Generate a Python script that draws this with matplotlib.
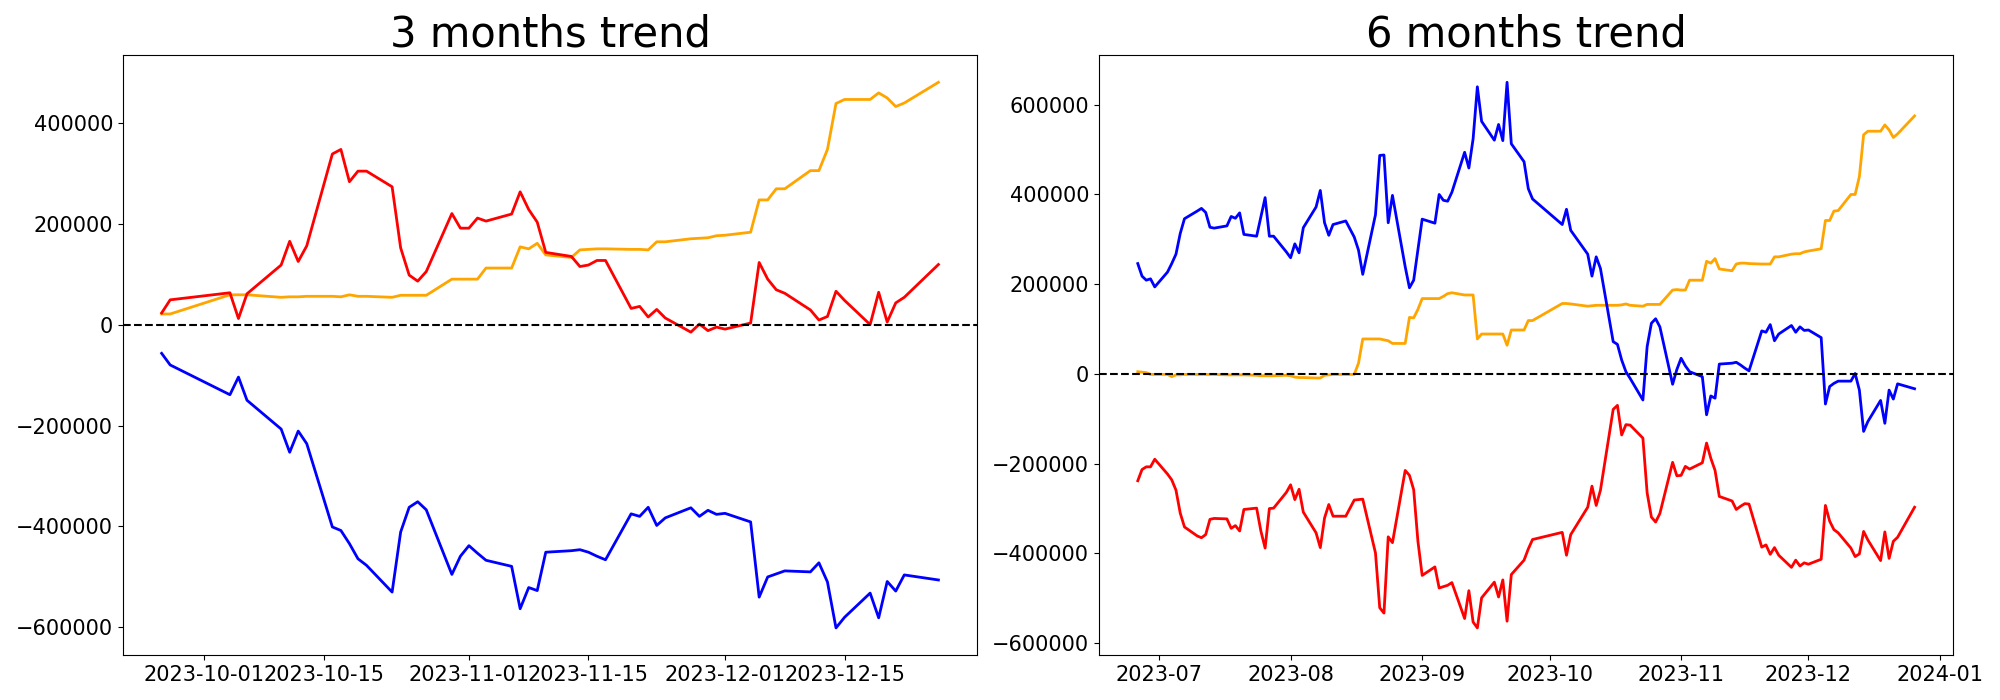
import matplotlib
matplotlib.use("Agg")
import matplotlib.pyplot as plt
import matplotlib.dates as mdates
import pandas as pd

# giorni di borsa chiusa (KRX) nel periodo
HOLIDAYS = ["2023-08-15", "2023-09-28", "2023-09-29", "2023-10-02",
            "2023-10-03", "2023-10-09", "2023-12-25"]

dates_6m = pd.bdate_range("2023-06-26", "2023-12-26", freq="C", holidays=HOLIDAYS)
dates_3m = pd.bdate_range("2023-09-26", "2023-12-26", freq="C", holidays=HOLIDAYS)

# 3 mesi (valori cumulati)
red_3m = [23, 49,
          63, 12, 61,
          118, 165, 125, 156,
          338, 347, 283, 304, 304,
          273, 152, 98, 86, 105,
          220, 191, 191, 211, 205,
          219, 263, 228, 203, 143,
          135, 115, 118, 127, 127,
          32, 36, 15, 30, 13,
          -15, 1, -12, -5, -9,
          3, 123, 90, 69, 62,
          29, 9, 16, 66, 48,
          0, 64, 5, 43, 54,
          119]
orange_3m = [21, 21,
             59, 59, 59,
             54, 55, 55, 56,
             56, 55, 59, 56, 56,
             54, 58, 58, 58, 58,
             90, 90, 90, 90, 112,
             112, 154, 150, 161, 138,
             133, 148, 149, 150, 150,
             149, 149, 148, 164, 164,
             170, 171, 172, 176, 177,
             183, 247, 247, 269, 269,
             305, 305, 347, 438, 446,
             446, 459, 449, 432, 439,
             480]
blue_3m = [-57, -80,
           -139, -104, -150,
           -207, -253, -211, -236,
           -401, -408, -434, -464, -477,
           -530, -411, -362, -351, -367,
           -495, -459, -438, -453, -467,
           -479, -563, -521, -527, -451,
           -448, -446, -451, -459, -466,
           -375, -380, -362, -398, -383,
           -363, -380, -368, -376, -374,
           -391, -540, -500, -494, -488,
           -490, -472, -510, -601, -580,
           -532, -581, -509, -528, -496,
           -506]

# 6 mesi
red_6m = [-238, -213, -207, -207, -190,
          -223, -236, -259, -310, -341,
          -361, -365, -358, -324, -322,
          -323, -344, -338, -350, -302,
          -299, -350, -388, -300, -299,
          -264, -247, -280, -257, -308,
          -354, -387, -321, -291, -317,
          -317, -281, -280, -279,
          -399, -521, -533, -363, -376,
          -215, -226, -258, -373, -449,
          -430, -477, -474, -471, -465,
          -545, -483, -553, -566, -499,
          -464, -497, -459, -551, -447,
          -415, -390, -369,
          -353, -404, -358,
          -297, -250, -293, -259,
          -79, -70, -136, -113, -114,
          -143, -265, -319, -330, -311,
          -197, -227, -226, -206, -212,
          -198, -154, -188, -215, -273,
          -283, -302, -295, -289, -290,
          -386, -381, -402, -387, -404,
          -431, -415, -428, -421, -424,
          -413, -293, -328, -347, -354,
          -388, -407, -401, -351, -370,
          -416, -352, -411, -373, -364,
          -297]
orange_6m = [5, 4, 3, -1, -1,
             -1, -6, -2, -2, -1,
             -1, -1, -1, -1, -1,
             -2, -2, -2, -2, -2,
             -3, -4, -4, -4, -4,
             -3, -4, -7, -8, -8,
             -9, -9, -3, -2, -1,
             -1, -1, 24, 78,
             78, 78, 76, 74, 68,
             68, 126, 125, 144, 168,
             168, 168, 173, 179, 181,
             176, 176, 176, 78, 89,
             89, 89, 89, 64, 98,
             98, 119, 119,
             157, 157, 156,
             151, 152, 153, 153,
             153, 153, 154, 156, 153,
             151, 155, 155, 155, 155,
             187, 188, 187, 187, 209,
             209, 251, 247, 257, 234,
             230, 245, 247, 247, 246,
             245, 245, 245, 261, 261,
             267, 268, 268, 272, 274,
             279, 342, 342, 363, 364,
             400, 400, 440, 533, 541,
             541, 555, 544, 527, 535,
             575]
blue_6m = [246, 218, 209, 212, 194,
           227, 246, 267, 313, 346,
           363, 369, 360, 327, 325,
           330, 351, 347, 359, 311,
           307, 350, 393, 307, 307,
           272, 259, 290, 270, 326,
           372, 409, 337, 309, 333,
           341, 305, 276, 222,
           355, 487, 488, 337, 398,
           239, 192, 209, 277, 345,
           336, 400, 387, 385, 405,
           494, 459, 524, 640, 563,
           521, 556, 520, 650, 513,
           473, 413, 390,
           333, 367, 320,
           267, 218, 261, 235,
           72, 66, 31, 5, -10,
           -58, 61, 113, 123, 105,
           -23, 10, 35, 18, 5,
           -6, -91, -49, -54, 22,
           24, 26, 20, 13, 7,
           96, 93, 110, 74, 89,
           108, 93, 105, 97, 98,
           81, -67, -28, -21, -16,
           -16, 1, -36, -128, -106,
           -59, -110, -36, -56, -22,
           -33]

SCALE = 1000  # valori letti in migliaia

fig, axes = plt.subplots(1, 2, figsize=(20, 7), dpi=100)
fig.subplots_adjust(left=0.0614, right=0.9767, bottom=0.064, top=0.9214, wspace=0.1424)

panels = [
    (axes[0], dates_3m, red_3m, orange_3m, blue_3m, "3 months trend"),
    (axes[1], dates_6m, red_6m, orange_6m, blue_6m, "6 months trend"),
]
for ax, d, red, orange, blue, title in panels:
    ax.plot(d, [v * SCALE for v in orange], color="orange", lw=2)
    ax.plot(d, [v * SCALE for v in red], color="red", lw=2)
    ax.plot(d, [v * SCALE for v in blue], color="blue", lw=2)
    ax.axhline(0, color="black", ls="--", lw=1.5)
    ax.set_title(title, fontsize=30)
    ax.tick_params(labelsize=15)

axes[0].xaxis.set_major_locator(mdates.DayLocator(bymonthday=[1, 15]))
axes[0].xaxis.set_major_formatter(mdates.DateFormatter("%Y-%m-%d"))
axes[1].xaxis.set_major_locator(mdates.MonthLocator())
axes[1].xaxis.set_major_formatter(mdates.DateFormatter("%Y-%m"))

fig.savefig("out.png", dpi=100)
